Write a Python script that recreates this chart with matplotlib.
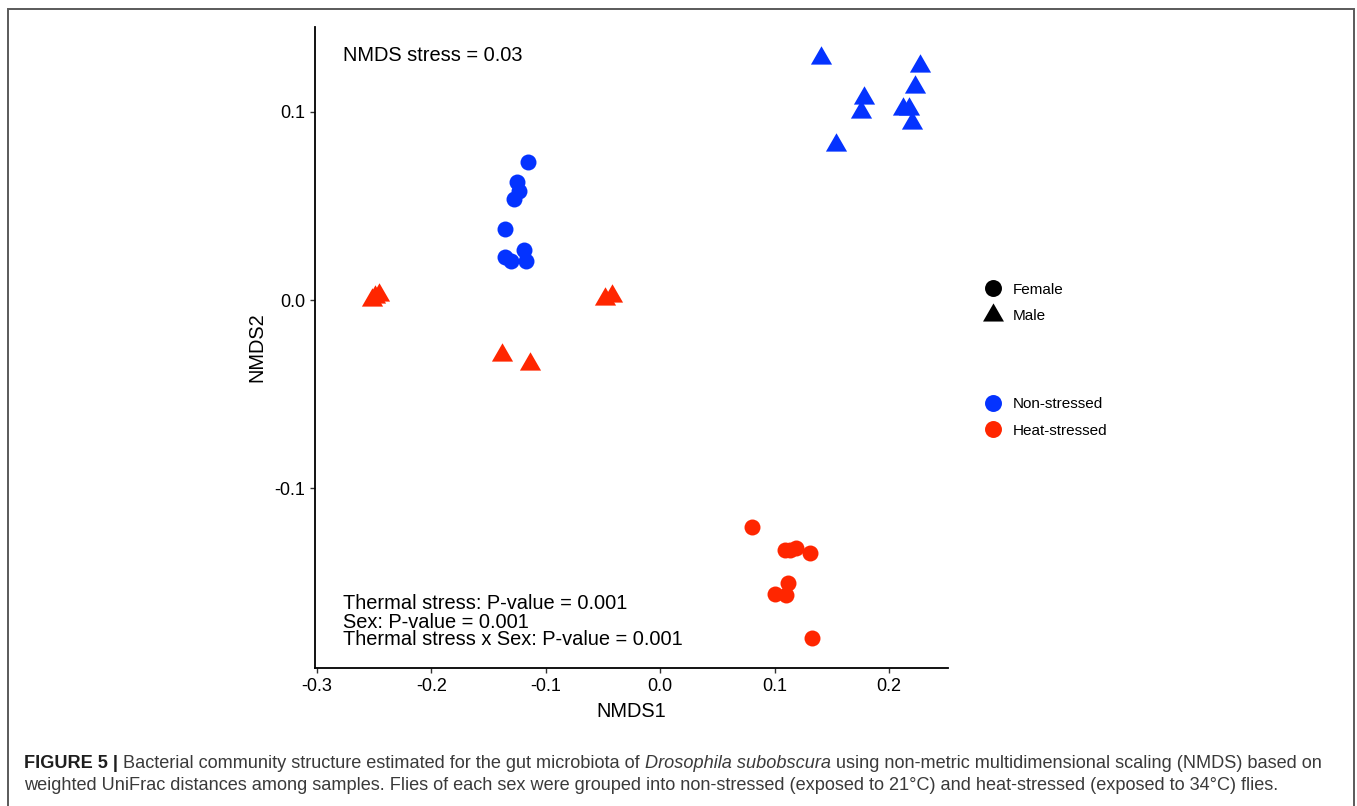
import matplotlib
matplotlib.use("Agg")
import matplotlib.pyplot as plt
from matplotlib.lines import Line2D
from matplotlib.path import Path
from matplotlib.patches import Rectangle
from matplotlib import font_manager

# ---------------- data ----------------
ns_female_x = [-0.1156, -0.1252, -0.1234, -0.1278, -0.1357, -0.1357, -0.1304, -0.1191, -0.1173]
ns_female_y = [0.0733, 0.0627, 0.0579, 0.0536, 0.0377, 0.0228, 0.0207, 0.0266, 0.0207]

ns_male_x = [0.1410, 0.2274, 0.2230, 0.1783, 0.1758, 0.2121, 0.2171, 0.2205, 0.1538]
ns_male_y = [0.1283, 0.1244, 0.1134, 0.1071, 0.0997, 0.1012, 0.1012, 0.0940, 0.0824]

hs_female_x = [0.0802, 0.1091, 0.1135, 0.1187, 0.1308, 0.1117, 0.1000, 0.1100, 0.1327]
hs_female_y = [-0.1205, -0.1328, -0.1328, -0.1317, -0.1344, -0.1501, -0.1559, -0.1567, -0.1794]

hs_male_x = [-0.2522, -0.2493, -0.2455, -0.0483, -0.0419, -0.1380, -0.1138]
hs_male_y = [0.0000, 0.0016, 0.0027, 0.0003, 0.0023, -0.0292, -0.0340]

x_ticks = [-0.3, -0.2, -0.1, 0.0, 0.1, 0.2]
x_tick_labels = ["-0.3", "-0.2", "-0.1", "0.0", "0.1", "0.2"]
y_ticks = [-0.1, 0.0, 0.1]
y_tick_labels = ["-0.1", "0.0", "0.1"]

sex_labels = ["Female", "Male"]
condition_labels = ["Non-stressed", "Heat-stressed"]

stress_text = "NMDS stress = 0.03"
pvalue_lines = ["Thermal stress: P-value = 0.001",
                "Sex: P-value = 0.001",
                "Thermal stress x Sex: P-value = 0.001"]

caption_line1 = [("FIGURE 5 |", "bold", "normal"),
                 ("Bacterial community structure estimated for the gut microbiota of", "normal", "normal"),
                 ("Drosophila subobscura", "normal", "italic"),
                 ("using non-metric multidimensional scaling (NMDS) based on", "normal", "normal")]
caption_line2 = [("weighted UniFrac distances among samples. Flies of each sex were grouped into non-stressed (exposed to 21\u00b0C) and heat-stressed (exposed to 34\u00b0C) flies.", "normal", "normal")]

# ---------------- style ----------------
W, H = 1357, 806
DPI = 100
BLUE = "#0433FF"
RED = "#FF2600"
FONT = "Liberation Sans"
plt.rcParams["font.family"] = [FONT, "DejaVu Sans"]

names = {f.name for f in font_manager.fontManager.ttflist}
CAP_FONT = "Liberation Sans Narrow" if "Liberation Sans Narrow" in names else FONT

# R-style triangle (pch 17), centred on its centroid
tri_verts = [(0.0, 1.555), (1.347, -0.778), (-1.347, -0.778), (0.0, 1.555)]
TRI = Path(tri_verts, [Path.MOVETO, Path.LINETO, Path.LINETO, Path.CLOSEPOLY])

CIRC_S = 11.5 ** 2
TRI_S = 17.6 ** 2

fig = plt.figure(figsize=(W / DPI, H / DPI), dpi=DPI)
fig.patch.set_facecolor("white")

# outer frame of the figure panel
fig.patches.append(Rectangle((8 / W, -0.05), (1354 - 8) / W, 1.05 - 9 / H,
                             transform=fig.transFigure, fill=False,
                             edgecolor="#5a5a5a", linewidth=1.4))

ax = fig.add_axes([315 / W, 1 - 668 / H, (948 - 315) / W, (668 - 27) / H])
ax.set_xlim(-0.3017, 0.2516)
ax.set_ylim(-0.1954, 0.1450)

ax.scatter(ns_female_x, ns_female_y, s=CIRC_S, marker="o", color=BLUE, linewidths=0, zorder=3)
ax.scatter(hs_female_x, hs_female_y, s=CIRC_S, marker="o", color=RED, linewidths=0, zorder=3)
ax.scatter(ns_male_x, ns_male_y, s=TRI_S, marker=TRI, color=BLUE, linewidths=0, zorder=3)
ax.scatter(hs_male_x, hs_male_y, s=TRI_S, marker=TRI, color=RED, linewidths=0, zorder=3)

for side in ("top", "right"):
    ax.spines[side].set_visible(False)
for side in ("left", "bottom"):
    ax.spines[side].set_linewidth(1.3)
    ax.spines[side].set_color("black")

ax.set_xticks(x_ticks)
ax.set_xticklabels(x_tick_labels)
ax.set_yticks(y_ticks)
ax.set_yticklabels(y_tick_labels)
ax.tick_params(axis="both", direction="out", length=3.5, width=1.0, color="#333333",
               labelsize=13, labelcolor="black", pad=3.5)

ax.set_xlabel("NMDS1", fontsize=14.4, labelpad=5)
ax.set_ylabel("NMDS2", fontsize=14.4, labelpad=6)

ax.text(-0.2773, 0.1296, stress_text, fontsize=14.4, ha="left", va="center")
p_y = [-0.1609, -0.1710, -0.1805]
for line, yy in zip(pvalue_lines, p_y):
    ax.text(-0.2773, yy, line, fontsize=14.4, ha="left", va="center")

# ---------------- legends ----------------
sex_handles = [
    Line2D([], [], linestyle="none", marker="o", markersize=12.2, color="black", markeredgewidth=0),
    Line2D([], [], linestyle="none", marker=TRI, markersize=17.4, color="black", markeredgewidth=0),
]
cond_handles = [
    Line2D([], [], linestyle="none", marker="o", markersize=12.2, color=BLUE, markeredgewidth=0),
    Line2D([], [], linestyle="none", marker="o", markersize=12.2, color=RED, markeredgewidth=0),
]
leg_kw = dict(frameon=False, fontsize=11, handlelength=1.0, handletextpad=0.8,
              labelspacing=0.81, borderpad=0, borderaxespad=0, loc="center left",
              bbox_transform=fig.transFigure)
leg1 = fig.legend(sex_handles, sex_labels, bbox_to_anchor=(985.4 / W, 1 - 303 / H), **leg_kw)
leg2 = fig.legend(cond_handles, condition_labels, bbox_to_anchor=(985.4 / W, 1 - 417.5 / H), **leg_kw)

# ---------------- caption ----------------
renderer = fig.canvas.get_renderer()


def text_width(s, size, weight, style):
    t = fig.text(0, 0, s, fontsize=size, fontweight=weight, fontstyle=style, family=CAP_FONT)
    w = t.get_window_extent(renderer).width
    t.remove()
    return w


def line_width(pieces, size):
    total = 0.0
    for s, wgt, sty in pieces:
        total += text_width(s, size, wgt, sty)
    space = text_width("x x", size, "normal", "normal") - text_width("xx", size, "normal", "normal")
    total += space * (len(pieces) - 1)
    return total, space


base = 12.0
w1, _ = line_width(caption_line1, base)
cap_size = base * (1322 - 24) / w1


def draw_line(pieces, y_px, size):
    _, space = line_width(pieces, size)
    x = 24.0
    for s, wgt, sty in pieces:
        col = "#1e1e1e" if wgt == "bold" else "#3a3a3a"
        t = fig.text(x / W, 1 - y_px / H, s, fontsize=size, fontweight=wgt, fontstyle=sty,
                     family=CAP_FONT, color=col, ha="left", va="center")
        x += t.get_window_extent(renderer).width + space


draw_line(caption_line1, 764, cap_size)
draw_line(caption_line2, 786, cap_size)

fig.savefig("out.png", dpi=DPI, facecolor="white")
